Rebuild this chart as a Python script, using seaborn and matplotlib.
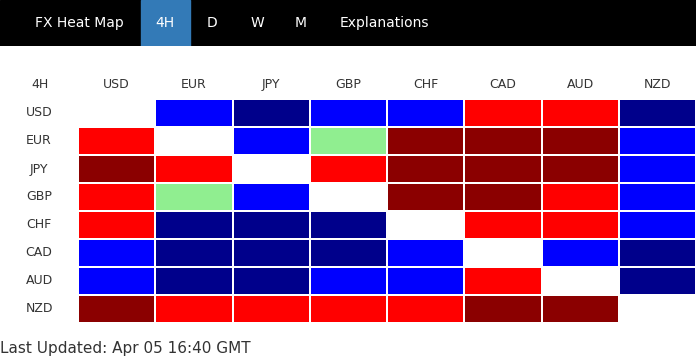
import numpy as np
import pandas as pd
import seaborn as sns
import matplotlib
matplotlib.use("Agg")
import matplotlib.pyplot as plt
from matplotlib.colors import ListedColormap
from matplotlib.patches import Rectangle

# ---- data ----
currencies = ["USD", "EUR", "JPY", "GBP", "CHF", "CAD", "AUD", "NZD"]
# strength codes: 2 = navy, 1 = blue, 0 = light green, -1 = red, -2 = dark red, nan = diagonal
usd = [np.nan, 1, 2, 1, 1, -1, -1, 2]
eur = [-1, np.nan, 1, 0, -2, -2, -2, 1]
jpy = [-2, -1, np.nan, -1, -2, -2, -2, 1]
gbp = [-1, 0, 1, np.nan, -2, -2, -1, 1]
chf = [-1, 2, 2, 2, np.nan, -1, -1, 1]
cad = [1, 2, 2, 2, 1, np.nan, 1, 2]
aud = [1, 2, 2, 1, 1, -1, np.nan, 2]
nzd = [-2, -1, -1, -1, -1, -2, -2, np.nan]
tabs = ["FX Heat Map", "4H", "D", "W", "M", "Explanations"]
timeframe = "4H"
updated = "Last Updated: Apr 05 16:40 GMT"

df = pd.DataFrame([usd, eur, jpy, gbp, chf, cad, aud, nzd],
                  index=currencies, columns=currencies)

W, H = 696, 360
fig = plt.figure(figsize=(W / 100, H / 100), dpi=100)
fig.patch.set_facecolor("white")

def fx(px):
    return px / W

def fy(py):
    return 1 - py / H

# ---- top navigation bar ----
bar = fig.add_axes([0, fy(46), 1, 46 / H])
bar.set_xlim(0, W)
bar.set_ylim(46, 0)
bar.set_facecolor("black")
bar.axis("off")
bar.add_patch(Rectangle((0, 0), W, 46, color="black", zorder=0))
bar.add_patch(Rectangle((141, 0), 49, 46, color="#337ab7", zorder=1))
tab_x = [79, 165, 212, 257, 301, 384]
for t, x in zip(tabs, tab_x):
    bar.text(x, 23, t, color="white", fontsize=10, ha="center", va="center",
             family="DejaVu Sans", zorder=2)

# ---- heatmap ----
cmap = ListedColormap(["#8b0000", "#ff0000", "#90ee90", "#0000ff", "#00008b"])
ax = fig.add_axes([fx(78), fy(323), fx(618), 224 / H])
sns.heatmap(df, ax=ax, cmap=cmap, vmin=-2.5, vmax=2.5, cbar=False,
            linewidths=1.1, linecolor="white", square=False,
            xticklabels=True, yticklabels=True)
ax.xaxis.tick_top()
ax.tick_params(axis="both", length=0)
ax.tick_params(axis="x", pad=10.5)
ax.tick_params(axis="y", pad=28)
for lab in ax.get_xticklabels():
    lab.set_fontsize(9)
    lab.set_color("#333333")
    lab.set_va("center")
    lab.set_rotation(0)
for lab in ax.get_yticklabels():
    lab.set_fontsize(9)
    lab.set_color("#333333")
    lab.set_ha("center")
    lab.set_rotation(0)
ax.set_xlabel("")
ax.set_ylabel("")
for s in ax.spines.values():
    s.set_visible(False)

fig.text(fx(40), fy(84), timeframe, fontsize=9, color="#333333",
         ha="center", va="center")
fig.text(fx(0), fy(348), updated, fontsize=11, color="#333333",
         ha="left", va="center")

fig.savefig("out.png", dpi=100, facecolor="white")
